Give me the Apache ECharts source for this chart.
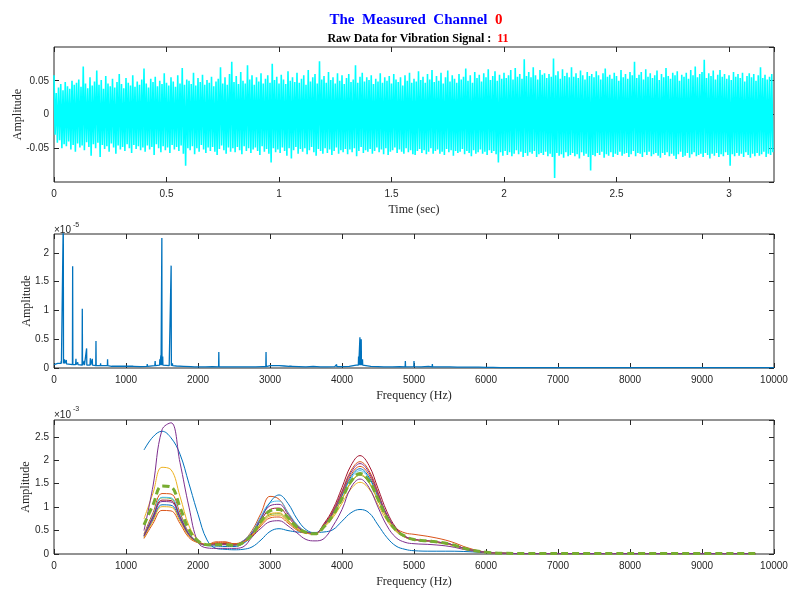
<!DOCTYPE html>
<html>
<head>
<meta charset="utf-8">
<script src="https://cdn.jsdelivr.net/npm/echarts/dist/echarts.min.js"></script>
<style>
  html, body { margin: 0; padding: 0; background: #fff; }
  #main { width: 790px; height: 590px; }
</style>
</head>
<body>
<div id="main"></div>
<script>
// ---- panel 1: raw vibration signal, peak envelope read every 0.01 s ----
var sigStep = 0.01;
var sigUpper = [
  0.058,0.032,0.040,0.045,0.036,0.048,0.042,0.038,0.050,0.044,
  0.047,0.052,0.041,0.071,0.046,0.039,0.055,0.043,0.049,0.065,
  0.044,0.051,0.038,0.057,0.046,0.042,0.053,0.040,0.048,0.060,
  0.045,0.039,0.054,0.047,0.043,0.058,0.041,0.049,0.044,0.052,
  0.068,0.046,0.040,0.053,0.048,0.056,0.042,0.050,0.045,0.061,
  0.047,0.043,0.055,0.049,0.041,0.058,0.046,0.069,0.044,0.052,
  0.050,0.045,0.062,0.043,0.054,0.048,0.059,0.044,0.051,0.047,
  0.056,0.042,0.049,0.053,0.070,0.046,0.055,0.044,0.060,0.078,
  0.048,0.057,0.045,0.063,0.050,0.046,0.073,0.052,0.058,0.044,
  0.055,0.049,0.061,0.046,0.053,0.058,0.047,0.075,0.051,0.056,
  0.046,0.059,0.052,0.045,0.064,0.050,0.055,0.048,0.062,0.047,
  0.053,0.058,0.044,0.066,0.049,0.055,0.060,0.046,0.079,0.052,
  0.057,0.047,0.063,0.051,0.055,0.046,0.061,0.050,0.058,0.045,
  0.054,0.060,0.048,0.052,0.073,0.047,0.056,0.062,0.049,0.055,
  0.051,0.058,0.045,0.053,0.049,0.061,0.047,0.055,0.050,0.057,
  0.046,0.060,0.052,0.048,0.055,0.043,0.058,0.050,0.062,0.047,
  0.053,0.049,0.064,0.051,0.056,0.047,0.060,0.052,0.066,0.048,
  0.057,0.050,0.062,0.046,0.055,0.065,0.049,0.058,0.053,0.047,
  0.060,0.052,0.056,0.068,0.050,0.058,0.047,0.063,0.054,0.059,
  0.049,0.061,0.055,0.067,0.051,0.057,0.064,0.050,0.059,0.053,
  0.062,0.054,0.058,0.066,0.052,0.069,0.056,0.060,0.053,0.082,
  0.057,0.063,0.055,0.070,0.058,0.052,0.066,0.059,0.061,0.054,
  0.060,0.056,0.083,0.058,0.064,0.053,0.067,0.057,0.062,0.055,
  0.070,0.056,0.061,0.054,0.065,0.058,0.052,0.063,0.057,0.060,
  0.055,0.064,0.058,0.052,0.061,0.068,0.056,0.059,0.053,0.062,
  0.057,0.050,0.066,0.055,0.060,0.053,0.063,0.058,0.078,0.054,
  0.059,0.063,0.052,0.067,0.056,0.061,0.054,0.058,0.065,0.051,
  0.060,0.055,0.069,0.057,0.053,0.062,0.058,0.064,0.050,0.059,
  0.056,0.062,0.053,0.066,0.058,0.071,0.055,0.060,0.063,0.081,
  0.054,0.061,0.057,0.065,0.052,0.059,0.066,0.056,0.060,0.053,
  0.058,0.051,0.063,0.056,0.060,0.054,0.062,0.049,0.057,0.061,
  0.055,0.060,0.050,0.058,0.070,0.054,0.059,0.052,0.056,0.060
];
var sigLower = [
  -0.030,-0.042,-0.038,-0.050,-0.044,-0.047,-0.040,-0.052,-0.045,-0.055,
  -0.043,-0.049,-0.046,-0.053,-0.041,-0.048,-0.061,-0.044,-0.050,-0.042,
  -0.063,-0.045,-0.051,-0.047,-0.055,-0.043,-0.049,-0.058,-0.046,-0.052,
  -0.048,-0.054,-0.044,-0.050,-0.057,-0.045,-0.051,-0.047,-0.053,-0.049,
  -0.055,-0.046,-0.052,-0.048,-0.060,-0.044,-0.050,-0.056,-0.047,-0.053,
  -0.049,-0.057,-0.045,-0.052,-0.048,-0.054,-0.046,-0.058,-0.076,-0.050,
  -0.053,-0.047,-0.059,-0.050,-0.055,-0.045,-0.052,-0.057,-0.049,-0.054,
  -0.048,-0.055,-0.060,-0.051,-0.046,-0.053,-0.058,-0.049,-0.055,-0.050,
  -0.056,-0.048,-0.053,-0.059,-0.047,-0.054,-0.050,-0.057,-0.052,-0.049,
  -0.054,-0.060,-0.047,-0.055,-0.051,-0.058,-0.071,-0.050,-0.056,-0.052,
  -0.057,-0.049,-0.054,-0.061,-0.050,-0.065,-0.053,-0.048,-0.058,-0.051,
  -0.055,-0.050,-0.059,-0.053,-0.048,-0.056,-0.061,-0.051,-0.054,-0.058,
  -0.050,-0.057,-0.052,-0.060,-0.054,-0.049,-0.058,-0.053,-0.056,-0.051,
  -0.059,-0.052,-0.056,-0.050,-0.062,-0.054,-0.048,-0.057,-0.053,-0.055,
  -0.051,-0.058,-0.054,-0.049,-0.056,-0.052,-0.059,-0.050,-0.060,-0.055,
  -0.053,-0.049,-0.057,-0.052,-0.055,-0.058,-0.050,-0.056,-0.053,-0.059,
  -0.060,-0.054,-0.051,-0.057,-0.053,-0.059,-0.055,-0.050,-0.058,-0.054,
  -0.052,-0.058,-0.055,-0.060,-0.051,-0.056,-0.053,-0.061,-0.054,-0.057,
  -0.055,-0.051,-0.059,-0.054,-0.057,-0.062,-0.053,-0.058,-0.056,-0.052,
  -0.058,-0.055,-0.060,-0.053,-0.057,-0.054,-0.059,-0.071,-0.056,-0.061,
  -0.054,-0.060,-0.056,-0.062,-0.058,-0.053,-0.059,-0.055,-0.063,-0.057,
  -0.061,-0.056,-0.058,-0.054,-0.063,-0.059,-0.057,-0.060,-0.055,-0.062,
  -0.058,-0.063,-0.094,-0.057,-0.061,-0.059,-0.064,-0.056,-0.062,-0.060,
  -0.057,-0.062,-0.059,-0.065,-0.056,-0.061,-0.058,-0.063,-0.083,-0.060,
  -0.062,-0.057,-0.060,-0.055,-0.064,-0.059,-0.061,-0.056,-0.063,-0.058,
  -0.060,-0.055,-0.061,-0.058,-0.057,-0.063,-0.059,-0.054,-0.062,-0.057,
  -0.058,-0.063,-0.056,-0.060,-0.055,-0.062,-0.059,-0.057,-0.061,-0.064,
  -0.057,-0.060,-0.056,-0.062,-0.058,-0.061,-0.066,-0.059,-0.055,-0.063,
  -0.061,-0.057,-0.064,-0.059,-0.056,-0.062,-0.060,-0.058,-0.063,-0.057,
  -0.060,-0.065,-0.058,-0.061,-0.057,-0.063,-0.059,-0.062,-0.056,-0.060,
  -0.076,-0.059,-0.062,-0.057,-0.061,-0.058,-0.063,-0.056,-0.060,-0.064,
  -0.058,-0.062,-0.057,-0.061,-0.059,-0.055,-0.063,-0.058,-0.060,-0.056
];

// ---- panel 2: spectrum (x1e-5), noise floor every 100 Hz + spikes ----
var specFloor = [
  0.06,0.08,0.07,0.06,0.05,0.05,0.04,0.04,0.03,0.03,
  0.03,0.03,0.025,0.03,0.04,0.05,0.04,0.035,0.03,0.025,
  0.02,0.02,0.025,0.02,0.02,0.02,0.02,0.02,0.02,0.025,
  0.04,0.04,0.035,0.03,0.025,0.02,0.03,0.02,0.02,0.025,
  0.025,0.03,0.05,0.05,0.03,0.025,0.02,0.02,0.025,0.02,
  0.025,0.02,0.03,0.02,0.02,0.02,0.015,0.015,0.015,0.015,
  0.01,0.01,0.008,0.008,0.008,0.008,0.008,0.008,0.008,0.008,
  0.008,0.008,0.008,0.008,0.008,0.008,0.008,0.008,0.008,0.008,
  0.008,0.008,0.008,0.008,0.008,0.008,0.008,0.008,0.008,0.008,
  0.008,0.008,0.008,0.008,0.008,0.008,0.008,0.008,0.008,0.008,
  0.008
];
var spikeFreq = [55, 100, 129, 145, 171, 200, 259, 305, 330, 393, 420, 453, 505, 532, 583, 647, 744, 980,
  1295, 1405, 1470, 1484, 1498, 1510, 1627, 1645, 1956, 2289, 2945, 3020, 3080, 3130, 3269, 3602, 3925,
  4200, 4230, 4249, 4258, 4267, 4285, 4586, 4880, 5000, 5255];
var spikeAmp = [0.1, 0.12, 2.6, 0.15, 0.14, 0.08, 1.77, 0.16, 0.1, 1.03, 0.12, 0.34, 0.17, 0.16, 0.47, 0.08, 0.15, 0.05,
  0.07, 0.12, 0.15, 0.22, 2.26, 0.2, 1.78, 0.08, 0.05, 0.28, 0.28, 0.06, 0.05, 0.05, 0.04, 0.06, 0.06,
  0.08, 0.2, 0.535, 0.45, 0.5, 0.15, 0.04, 0.12, 0.12, 0.07];

// ---- panel 3: filtered spectra (x1e-3) ----
var bandFreq = [1250,1375,1500,1625,1750,1875,2000,2125,2250,2375,2500,2625,2750,2875,3000,3125,3250,3375,3500,3625,
  3750,3875,4000,4125,4250,4375,4500,4625,4750,4875,5000,5250,5500,5750,6000,6250,6500,7500,8500,9750];
var band1  = [2.22,2.5,2.62,2.48,2.13,1.5,0.85,0.3,0.12,0.1,0.09,0.1,0.15,0.3,0.48,0.54,0.5,0.47,0.46,0.46,0.47,0.52,0.7,0.88,0.95,0.88,0.62,0.35,0.17,0.1,0.07,0.06,0.06,0.05,0.03,0.015,0.01,0.01,0.01,0.01];
var band2  = [0.43,0.88,1.29,1.28,0.88,0.45,0.26,0.2,0.26,0.26,0.22,0.28,0.5,0.87,1.23,1.17,0.88,0.62,0.48,0.44,0.63,0.92,1.34,1.78,1.97,1.78,1.32,0.78,0.55,0.45,0.42,0.36,0.27,0.13,0.04,0.015,0.01,0.01,0.01,0.01];
var band3  = [0.75,1.3,1.85,1.8,1.23,0.6,0.3,0.2,0.22,0.22,0.2,0.25,0.39,0.63,0.81,0.83,0.69,0.53,0.45,0.43,0.57,0.78,1.08,1.39,1.53,1.39,1.05,0.71,0.48,0.36,0.3,0.26,0.2,0.1,0.04,0.015,0.01,0.01,0.01,0.01];
var band4  = [0.5,1.45,2.65,2.8,1.95,1.0,0.25,0.13,0.12,0.12,0.12,0.15,0.36,0.55,0.69,0.71,0.6,0.45,0.31,0.28,0.33,0.6,0.95,1.42,1.6,1.42,1.0,0.6,0.35,0.25,0.22,0.2,0.16,0.08,0.03,0.015,0.01,0.01,0.01,0.01];
var band5  = [0.4,0.82,1.2,1.18,0.82,0.43,0.25,0.2,0.21,0.21,0.19,0.25,0.4,0.65,0.84,0.86,0.71,0.54,0.45,0.43,0.59,0.82,1.17,1.52,1.68,1.52,1.14,0.76,0.5,0.36,0.3,0.26,0.2,0.1,0.04,0.015,0.01,0.01,0.01,0.01];
var band6  = [0.4,0.83,1.21,1.2,0.83,0.43,0.25,0.19,0.2,0.2,0.18,0.28,0.47,0.81,1.09,1.13,0.89,0.63,0.48,0.44,0.6,0.86,1.23,1.61,1.78,1.61,1.2,0.79,0.52,0.37,0.3,0.26,0.21,0.1,0.04,0.015,0.01,0.01,0.01,0.01];
var band7  = [0.39,0.79,1.15,1.14,0.79,0.41,0.25,0.2,0.22,0.22,0.2,0.26,0.43,0.72,0.95,0.98,0.79,0.58,0.46,0.43,0.65,0.96,1.42,1.89,2.1,1.89,1.4,0.9,0.56,0.38,0.31,0.27,0.21,0.1,0.04,0.015,0.01,0.01,0.01,0.01];
var band8  = [0.36,0.73,1.05,1.04,0.73,0.39,0.24,0.18,0.17,0.16,0.16,0.22,0.4,0.75,1.1,1.26,1.08,0.75,0.52,0.45,0.61,0.87,1.25,1.65,1.82,1.64,1.23,0.81,0.52,0.37,0.3,0.26,0.21,0.1,0.04,0.015,0.01,0.01,0.01,0.01];
var band9  = [0.33,0.65,0.93,0.92,0.65,0.35,0.24,0.2,0.24,0.25,0.22,0.25,0.38,0.6,0.77,0.79,0.66,0.51,0.44,0.43,0.62,0.88,1.28,1.69,1.87,1.69,1.26,0.82,0.53,0.37,0.31,0.27,0.21,0.1,0.04,0.015,0.01,0.01,0.01,0.01];
var band10 = [0.35,0.7,1.01,1.0,0.7,0.38,0.24,0.19,0.2,0.2,0.19,0.26,0.4,0.66,0.86,0.88,0.72,0.55,0.45,0.43,0.59,0.83,1.18,1.54,1.7,1.54,1.16,0.77,0.51,0.36,0.3,0.26,0.2,0.1,0.04,0.015,0.01,0.01,0.01,0.01];
var band11 = [0.38,0.77,1.12,1.11,0.77,0.41,0.25,0.19,0.2,0.2,0.19,0.27,0.45,0.77,1.03,1.06,0.85,0.6,0.47,0.44,0.62,0.9,1.32,1.74,1.93,1.74,1.29,0.84,0.54,0.37,0.31,0.27,0.21,0.1,0.04,0.015,0.01,0.01,0.01,0.01];
var bandMean = [0.62,1.05,1.45,1.43,1.0,0.52,0.28,0.2,0.2,0.2,0.18,0.24,0.41,0.7,0.92,0.95,0.78,0.57,0.46,0.43,0.58,0.83,1.18,1.55,1.72,1.56,1.17,0.77,0.51,0.38,0.31,0.27,0.21,0.1,0.04,0.015,0.01,0.01,0.01,0.01];
var bands = [band1, band2, band3, band4, band5, band6, band7, band8, band9, band10, band11];
var bandColors = ['#0072BD', '#D95319', '#EDB120', '#7E2F8E', '#77AC30', '#4DBEEE', '#A2142F',
  '#0072BD', '#D95319', '#EDB120', '#7E2F8E'];

var axisColor = '#262626';
var tickFont = 'Liberation Sans';
var nameFont = 'Liberation Serif';

// zigzag between the peak envelopes so the band fills like the raw trace
var sigData = [];
for (var i = 0; i < sigUpper.length; i++) {
  sigData.push([i * sigStep, sigUpper[i]]);
  sigData.push([i * sigStep + sigStep / 2, sigLower[i]]);
}

var specData = [];
for (var j = 0; j < specFloor.length; j++) specData.push([j * 100, specFloor[j]]);
for (var k = 0; k < spikeFreq.length; k++) {
  var f = spikeFreq[k];
  var b = specFloor[Math.round(f / 100)];
  specData.push([f - 3, b], [f, spikeAmp[k]], [f + 3, b]);
}
specData.sort(function (a, c) { return a[0] - c[0]; });

function pairs(xs, ys) {
  return xs.map(function (x, n) { return [x, ys[n]]; });
}

function plain(v) { return String(v); }

function xAx(grid, max, interval, name, top) {
  return {
    type: 'value', gridIndex: grid, min: 0, max: max, interval: interval,
    position: top ? 'top' : 'bottom',
    name: top ? '' : name, nameLocation: 'middle', nameGap: 22, nameMoveOverlap: false,
    nameTextStyle: { fontFamily: nameFont, fontSize: 12, color: axisColor },
    axisLine: { show: false, onZero: false },
    axisTick: { show: true, inside: true, length: 5, lineStyle: { color: axisColor } },
    axisLabel: { show: !top, showMaxLabel: max % interval === 0, margin: 7, formatter: plain,
      fontFamily: tickFont, fontSize: 10, color: axisColor },
    splitLine: { show: false }
  };
}

function yAx(grid, min, max, interval, right, gap) {
  return {
    type: 'value', gridIndex: grid, min: min, max: max, interval: interval,
    position: right ? 'right' : 'left',
    name: right ? '' : 'Amplitude', nameLocation: 'middle', nameGap: gap, nameRotate: 90, nameMoveOverlap: false,
    nameTextStyle: { fontFamily: nameFont, fontSize: 12, color: axisColor },
    axisLine: { show: false, onZero: false },
    axisTick: { show: true, inside: true, length: 5, lineStyle: { color: axisColor } },
    axisLabel: { show: !right, showMaxLabel: false, showMinLabel: min === 0, margin: 5, formatter: plain,
      fontFamily: tickFont, fontSize: 10, color: axisColor },
    splitLine: { show: false }
  };
}

var gridBox = { show: true, borderColor: axisColor, borderWidth: 1, backgroundColor: 'transparent',
  containLabel: false, outerBoundsMode: 'none' };

var series = [
  {
    type: 'line', xAxisIndex: 0, yAxisIndex: 0, data: sigData, showSymbol: false, silent: true,
    lineStyle: { color: '#00FFFF', width: 1.6 }, areaStyle: { color: '#00FFFF', opacity: 1 }
  },
  {
    type: 'line', xAxisIndex: 2, yAxisIndex: 2, data: specData, showSymbol: false, silent: true,
    lineStyle: { color: '#0072BD', width: 1.3 }
  }
];
bands.forEach(function (vals, n) {
  series.push({
    type: 'line', xAxisIndex: 4, yAxisIndex: 4, data: pairs(bandFreq, vals), showSymbol: false,
    smooth: 0.4, silent: true, lineStyle: { color: bandColors[n], width: 1 }
  });
});
series.push({
  type: 'line', xAxisIndex: 4, yAxisIndex: 4, data: pairs(bandFreq, bandMean), showSymbol: false,
  smooth: 0.4, silent: true, z: 5, lineStyle: { color: '#77AC30', width: 3, type: [7, 4] }
});

var myChart = echarts.init(document.getElementById('main'));
var option = {
  animation: false,
  backgroundColor: '#fff',
  grid: [
    Object.assign({ left: 54, top: 47, width: 720, height: 135 }, gridBox),
    Object.assign({ left: 54, top: 234, width: 720, height: 134 }, gridBox),
    Object.assign({ left: 54, top: 420, width: 720, height: 134 }, gridBox)
  ],
  xAxis: [
    xAx(0, 3.2, 0.5, 'Time (sec)', false), xAx(0, 3.2, 0.5, '', true),
    xAx(1, 10000, 1000, 'Frequency (Hz)', false), xAx(1, 10000, 1000, '', true),
    xAx(2, 10000, 1000, 'Frequency (Hz)', false), xAx(2, 10000, 1000, '', true)
  ],
  yAxis: [
    yAx(0, -0.1, 0.1, 0.05, false, 30), yAx(0, -0.1, 0.1, 0.05, true, 0),
    yAx(1, 0, 2.33, 0.5, false, 21), yAx(1, 0, 2.33, 0.5, true, 0),
    yAx(2, 0, 2.86, 0.5, false, 22), yAx(2, 0, 2.86, 0.5, true, 0)
  ],
  graphic: [
    {
      type: 'text', x: 416, y: 20,
      style: {
        text: '{b|The  Measured  Channel  }{r|0}', align: 'center', verticalAlign: 'middle',
        textAlign: 'center', textVerticalAlign: 'middle',
        rich: {
          b: { fontFamily: nameFont, fontWeight: 'bold', fontSize: 15, fill: '#0000FF', color: '#0000FF' },
          r: { fontFamily: nameFont, fontWeight: 'bold', fontSize: 15, fill: '#FF0000', color: '#FF0000' }
        }
      }
    },
    {
      type: 'text', x: 418, y: 39,
      style: {
        text: '{b|Raw Data for Vibration Signal :  }{r|11}', align: 'center', verticalAlign: 'middle',
        textAlign: 'center', textVerticalAlign: 'middle',
        rich: {
          b: { fontFamily: nameFont, fontWeight: 'bold', fontSize: 12, fill: '#000', color: '#000' },
          r: { fontFamily: nameFont, fontWeight: 'bold', fontSize: 12, fill: '#FF0000', color: '#FF0000' }
        }
      }
    },
    { type: 'text', x: 54, y: 230, style: { text: '\u00d710', fontFamily: tickFont, fontSize: 10, fill: axisColor, verticalAlign: 'middle', textVerticalAlign: 'middle' } },
    { type: 'text', x: 73, y: 225, style: { text: '-5', fontFamily: tickFont, fontSize: 7, fill: axisColor, verticalAlign: 'middle', textVerticalAlign: 'middle' } },
    { type: 'text', x: 54, y: 415, style: { text: '\u00d710', fontFamily: tickFont, fontSize: 10, fill: axisColor, verticalAlign: 'middle', textVerticalAlign: 'middle' } },
    { type: 'text', x: 73, y: 409, style: { text: '-3', fontFamily: tickFont, fontSize: 7, fill: axisColor, verticalAlign: 'middle', textVerticalAlign: 'middle' } }
  ],
  series: series
};
myChart.setOption(option);
window.onresize = myChart.resize;
</script>
</body>
</html>
